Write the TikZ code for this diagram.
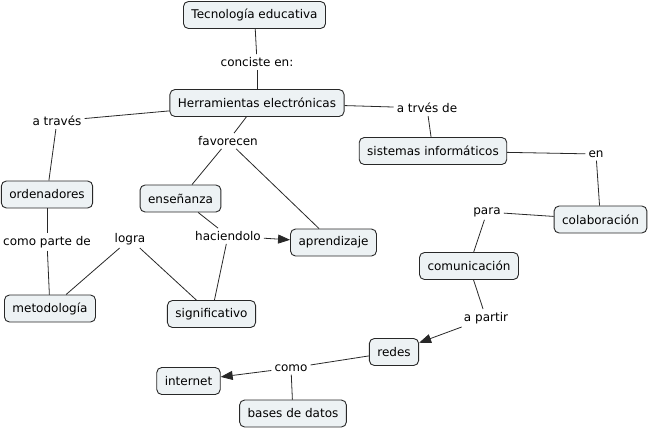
\documentclass[tikz,border=0pt]{standalone}
\usepackage{fontspec}
\setmainfont{DejaVu Sans}
\usetikzlibrary{arrows.meta, positioning}
\definecolor{conceptfill}{RGB}{237,242,244}
\definecolor{lineclr}{RGB}{40,40,40}

\begin{document}
\begin{tikzpicture}[x=1pt, y=-1pt, >={Triangle[length=12pt,width=9pt]},
    concept/.style={draw=lineclr, line width=0.9pt, fill=conceptfill, rounded corners=5pt, minimum height=27pt, inner xsep=8pt, font=\fontsize{12}{14}\selectfont},
    link/.style={inner sep=3pt, font=\fontsize{12}{14}\selectfont},
    conn/.style={draw=lineclr, line width=0.8pt}]
    \useasboundingbox (0,0) rectangle (648,429);

    % concepts
    \node[concept] (tec) at (254.5,15) {Tecnología educativa};
    \node[concept] (herr) at (257,103) {Herramientas electrónicas};
    \node[concept] (sist) at (433,151) {sistemas informáticos};
    \node[concept] (orden) at (47,194.5) {ordenadores};
    \node[concept] (ense) at (180.5,198.5) {enseñanza};
    \node[concept] (apren) at (333.5,242.5) {aprendizaje};
    \node[concept] (colab) at (600.5,219.5) {colaboración};
    \node[concept] (comun) at (469,266) {comunicación};
    \node[concept] (metod) at (50,308.5) {metodología};
    \node[concept] (signif) at (211.5,314) {significativo};
    \node[concept] (redes) at (394,352) {redes};
    \node[concept] (inter) at (188.5,381) {internet};
    \node[concept] (bases) at (293,413.5) {bases de datos};

    % linking phrases
    \node[link] (consiste) at (257,62) {conciste en:};
    \node[link] (atraves) at (57,121) {a través};
    \node[link] (favor) at (228,141) {favorecen};
    \node[link] (atrves) at (427,108) {a trvés de};
    \node[link] (en) at (596,154) {en};
    \node[link] (parte) at (47,242) {como parte de};
    \node[link] (logra) at (130,239) {logra};
    \node[link] (hacien) at (228,236) {haciendolo};
    \node[link] (para) at (487,212) {para};
    \node[link] (apartir) at (486,318) {a partir};
    \node[link] (como) at (291,368) {como};

    % connectors
    \draw[conn] (tec) -- (consiste);
    \draw[conn] (consiste) -- (herr);
    \draw[conn] (herr) -- (atraves);
    \draw[conn] (atraves) -- (orden);
    \draw[conn] (herr) -- (favor);
    \draw[conn] (favor) -- (ense);
    \draw[conn] (favor) -- (apren);
    \draw[conn] (herr) -- (atrves);
    \draw[conn] (atrves) -- (sist);
    \draw[conn] (sist) -- (en);
    \draw[conn] (en) -- (colab);
    \draw[conn] (colab) -- (para);
    \draw[conn] (para) -- (comun);
    \draw[conn] (comun) -- (apartir);
    \draw[conn, ->] (apartir) -- (redes);
    \draw[conn] (redes) -- (como);
    \draw[conn, ->] (como) -- (inter);
    \draw[conn] (como) -- (bases);
    \draw[conn] (orden) -- (parte);
    \draw[conn] (parte) -- (metod);
    \draw[conn] (metod) -- (logra);
    \draw[conn] (logra) -- (signif);
    \draw[conn] (ense) -- (hacien);
    \draw[conn, ->] (hacien) -- (apren);
    \draw[conn] (hacien) -- (signif);
\end{tikzpicture}
\end{document}
